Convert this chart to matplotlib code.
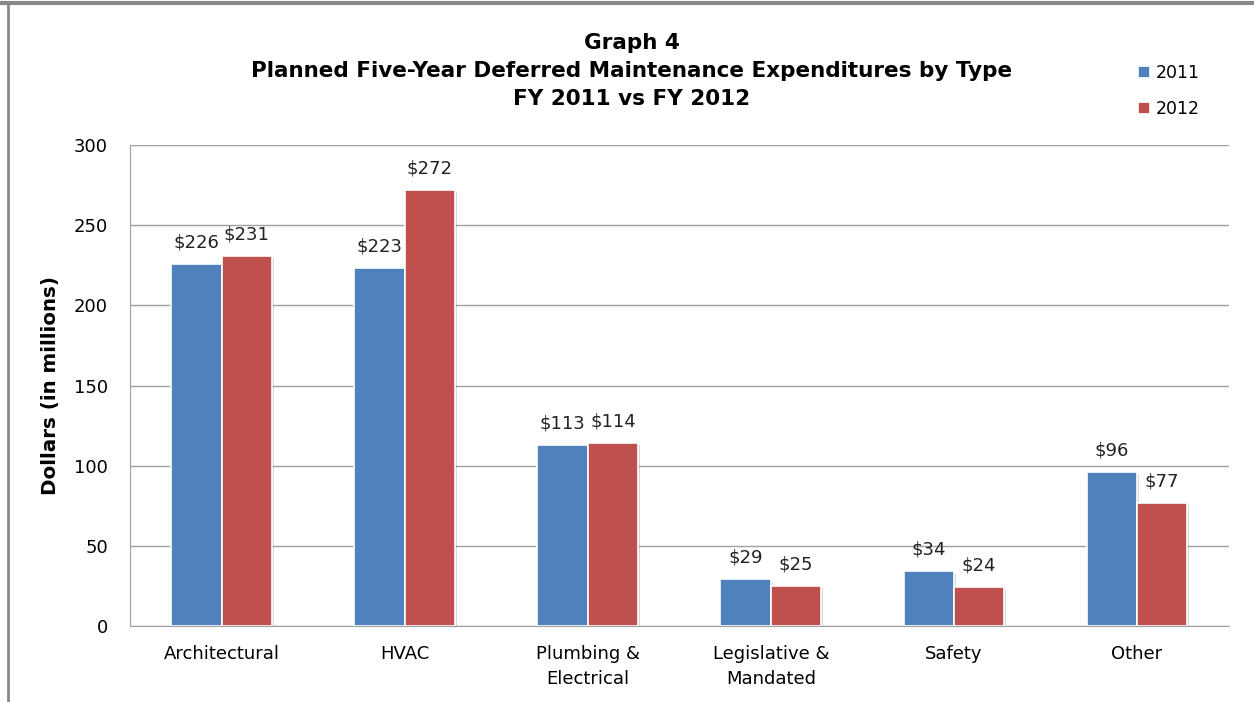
import numpy as np
import matplotlib.pyplot as plt
from matplotlib.lines import Line2D
import matplotlib.patheffects as pe

categories = ['Architectural', 'HVAC', 'Plumbing &\nElectrical', 'Legislative &\nMandated', 'Safety', 'Other']
vals_2011 = [226, 223, 113, 29, 34, 96]
vals_2012 = [231, 272, 114, 25, 24, 77]
years = ['2011', '2012']

blue = '#4F81BD'
red = '#C0504D'

plt.rcParams['font.family'] = ['DejaVu Sans']

fig = plt.figure(figsize=(12.54, 7.02), dpi=100)
ax = fig.add_axes([0.1037, 0.1083, 0.876, 0.6851])

x = np.arange(len(categories))
w = 0.275
shadow = [pe.SimplePatchShadow(offset=(1.5, -1.5), shadow_rgbFace='#000000', alpha=0.15), pe.Normal()]
b1 = ax.bar(x - w / 2, vals_2011, w, color=blue, edgecolor='white', linewidth=1.2, label=years[0], zorder=3)
b2 = ax.bar(x + w / 2, vals_2012, w, color=red, edgecolor='white', linewidth=1.2, label=years[1], zorder=3)
for bars in (b1, b2):
    for b in bars:
        b.set_path_effects(shadow)
    ax.bar_label(bars, labels=['$%d' % v for v in bars.datavalues], padding=9, fontsize=13, color='#222222')

ax.set_xlim(-0.5, len(categories) - 0.5)
ax.set_ylim(0, 300)
ax.set_yticks(range(0, 301, 50))
ax.set_xticks(x)
ax.set_xticklabels(categories, fontsize=13, linespacing=1.5)
ax.tick_params(axis='y', labelsize=13, length=0, pad=16)
ax.tick_params(axis='x', length=0, pad=14)
ax.yaxis.grid(True, color='#A0A0A0', linewidth=1)
ax.set_axisbelow(True)
for s in ['top', 'right']:
    ax.spines[s].set_visible(False)
for s in ['left', 'bottom']:
    ax.spines[s].set_color('#A0A0A0')
ax.set_ylabel('Dollars (in millions)', fontsize=14.3, fontweight='bold', labelpad=10)

fig.text(0.504, 0.899, 'Graph 4\nPlanned Five-Year Deferred Maintenance Expenditures by Type\nFY 2011 vs FY 2012',
         ha='center', va='center', fontsize=15.5, fontweight='bold', linespacing=1.5)

leg = ax.legend(loc='upper left', bbox_to_anchor=(0.903, 1.2), frameon=False, fontsize=12.5,
                handlelength=0.7, handleheight=0.7, handletextpad=0.35, labelspacing=1.0)
for h in leg.legend_handles:
    h.set_path_effects([])

fig.add_artist(Line2D([0, 1], [0.996, 0.996], color='#888888', linewidth=3, transform=fig.transFigure))
fig.add_artist(Line2D([0.0065, 0.0065], [0, 0.996], color='#888888', linewidth=2, transform=fig.transFigure))

fig.savefig('out.png', dpi=100)
